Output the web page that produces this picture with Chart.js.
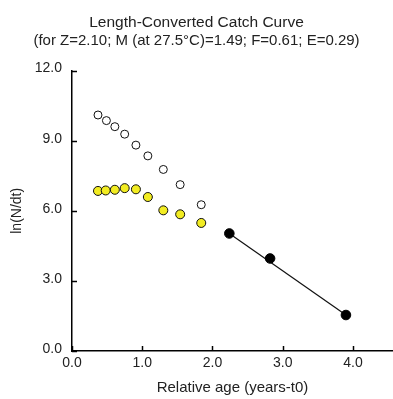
<!DOCTYPE html>
<html><head><meta charset="utf-8">
<script src="https://cdn.jsdelivr.net/npm/chart.js@4.4.1/dist/chart.umd.min.js"></script>
<style>html,body{margin:0;padding:0;background:#fff;}#wrap{width:393px;height:399px;}</style>
</head><body><div id="wrap"><canvas id="c" width="393" height="399"></canvas></div>
<script>
const titleText = 'Length-Converted Catch Curve';
const subtitleText = '(for Z=2.10; M (at 27.5\u00B0C)=1.49; F=0.61; E=0.29)';
const xTitle = 'Relative age (years-t0)';
const yTitle = 'ln(N/dt)';
// open circles: points not used in regression (total)
const openAge = [0.37, 0.49, 0.61, 0.75, 0.91, 1.08, 1.30, 1.54, 1.84];
const openLn  = [10.10, 9.86, 9.60, 9.28, 8.81, 8.35, 7.77, 7.12, 6.26];
// yellow points: expected values (corrected for selection)
const yellowAge = [0.37, 0.48, 0.61, 0.75, 0.91, 1.08, 1.30, 1.54, 1.84];
const yellowLn  = [6.85, 6.87, 6.90, 6.97, 6.92, 6.59, 6.02, 5.85, 5.48];
// black points used in regression
const usedAge = [2.24, 2.82, 3.90];
const usedLn  = [5.03, 3.96, 1.54];
// regression line end points
const fitAge = [2.24, 3.90];
const fitLn  = [5.03, 1.54];
const xTicks = [0, 1, 2, 3, 4];
const yTicks = [0, 3, 6, 9, 12];

const pts = (xs, ys) => xs.map((x, i) => ({x: x, y: ys[i]}));
const FONT = "'Liberation Sans', Arial, sans-serif";
const TXT = '#222';

const inwardTicks = {
  id: 'inwardTicks',
  afterDraw(chart) {
    const ctx = chart.ctx, xs = chart.scales.x, ys = chart.scales.y;
    ctx.save();
    ctx.strokeStyle = '#000';
    ctx.lineWidth = 1.5;
    xs.ticks.forEach((t, i) => {
      const px = Math.round(xs.getPixelForTick(i)) + 0.5;
      ctx.beginPath(); ctx.moveTo(px, xs.top); ctx.lineTo(px, xs.top - 5); ctx.stroke();
    });
    ys.ticks.forEach((t, i) => {
      const py = Math.round(ys.getPixelForTick(i)) + 0.5;
      ctx.beginPath(); ctx.moveTo(ys.right, py); ctx.lineTo(ys.right + 5, py); ctx.stroke();
    });
    ctx.restore();
  }
};

new Chart(document.getElementById('c'), {
  type: 'scatter',
  data: {
    datasets: [
      { label: 'fit', data: pts(fitAge, fitLn), showLine: true, borderColor: '#111', borderWidth: 1.2, pointRadius: 0, order: 3 },
      { label: 'open', data: pts(openAge, openLn), backgroundColor: '#fff', borderColor: '#111', borderWidth: 1, pointRadius: 4, order: 2 },
      { label: 'yellow', data: pts(yellowAge, yellowLn), backgroundColor: '#f2ec22', borderColor: '#111', borderWidth: 1, pointRadius: 4.5, order: 2 },
      { label: 'used', data: pts(usedAge, usedLn), backgroundColor: '#000', borderColor: '#000', borderWidth: 1, pointRadius: 4.8, order: 1 }
    ]
  },
  options: {
    responsive: false,
    animation: false,
    devicePixelRatio: 1,
    layout: { autoPadding: false, padding: { left: 0, right: 0, top: 0, bottom: 0 } },
    plugins: {
      legend: { display: false },
      tooltip: { enabled: false },
      title: { display: true, text: titleText, color: TXT, font: { family: FONT, size: 15.5, weight: 'normal' }, padding: { top: 13, bottom: 0 } },
      subtitle: { display: true, text: subtitleText, color: TXT, font: { family: FONT, size: 15, weight: 'normal' }, padding: { top: 0, bottom: 21 } }
    },
    scales: {
      x: {
        type: 'linear', min: 0, max: 4.57,
        afterBuildTicks: s => { s.ticks = xTicks.map(v => ({ value: v })); },
        afterFit: s => { s.height = 48; s.paddingLeft = 0; s.paddingRight = 0; },
        grid: { drawOnChartArea: false, drawTicks: false },
        border: { display: true, color: '#000', width: 1.5 },
        ticks: { color: TXT, font: { family: FONT, size: 14 }, padding: 4, callback: v => v.toFixed(1) },
        title: { display: true, text: xTitle, color: TXT, font: { family: FONT, size: 15 }, padding: { top: 2, bottom: 2 } }
      },
      y: {
        type: 'linear', min: 0, max: 12,
        afterBuildTicks: s => { s.ticks = yTicks.map(v => ({ value: v })); },
        afterFit: s => { s.width = 72; s.paddingTop = 0; s.paddingBottom = 0; },
        grid: { drawOnChartArea: false, drawTicks: false },
        border: { display: true, color: '#000', width: 1.5 },
        ticks: { color: TXT, font: { family: FONT, size: 14 }, padding: 10, labelOffset: -2, callback: v => v.toFixed(1) },
        title: { display: true, text: yTitle, color: TXT, font: { family: FONT, size: 14 }, padding: { top: 9, bottom: 0 } }
      }
    }
  },
  plugins: [inwardTicks]
});
</script>
</body></html>
